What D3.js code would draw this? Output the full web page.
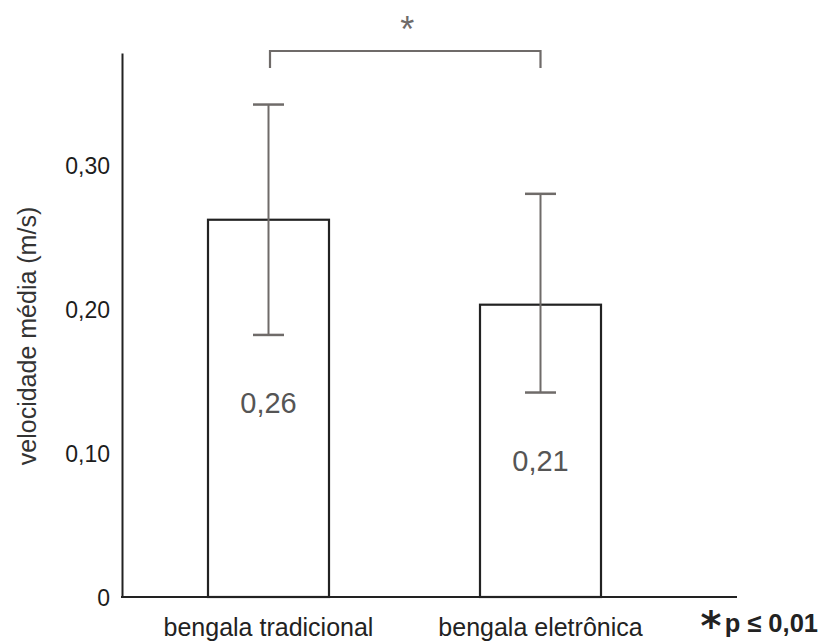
<!DOCTYPE html>
<html><head><meta charset="utf-8">
<script src="https://cdn.jsdelivr.net/npm/d3@7"></script>
<style>body{margin:0;background:#fff;} svg{display:block;font-family:"Liberation Sans",Arial,sans-serif;}</style>
</head><body>
<svg id="c" width="819" height="641"></svg>
<script>
const categories = ["bengala tradicional", "bengala eletrônica"];
const means = [0.262, 0.203];
const meanLabels = ["0,26", "0,21"];
const errHigh = [0.342, 0.280];
const errLow = [0.182, 0.142];
const yTicks = [0, 0.10, 0.20, 0.30];
const yTickLabels = ["0", "0,10", "0,20", "0,30"];
const yTitle = "velocidade média (m/s)";
const sigMark = "*";
const noteMark = "⁎";
const note = "p ≤ 0,01";

const svg = d3.select("#c");
const y = d3.scaleLinear().domain([0, 0.3778]).range([597, 53]);
const x = d3.scalePoint().domain(categories).range([268.5, 540.5]);
const barW = 121, capW = 31;
const gray = "#6f6b69", dark = "#222";

// Y axis
const yAxis = d3.axisLeft(y).tickValues(yTicks).tickSize(0).tickSizeOuter(0).tickPadding(12)
  .tickFormat((d, i) => yTickLabels[i]);
const gy = svg.append("g").attr("transform", "translate(122,0)").call(yAxis);
gy.select(".domain").attr("stroke", dark).attr("stroke-width", 2);
gy.selectAll(".tick text").attr("font-size", 23).attr("fill", "#1c1c1c").attr("font-family", "Liberation Sans, Arial, sans-serif").attr("dy", "0.36em");

// Bars
svg.selectAll("rect.bar").data(categories).join("rect").attr("class", "bar")
  .attr("x", d => x(d) - barW / 2).attr("width", barW)
  .attr("y", (d, i) => y(means[i])).attr("height", (d, i) => y(0) - y(means[i]))
  .attr("fill", "#fff").attr("stroke", dark).attr("stroke-width", 2.2);

// X axis line
svg.append("line").attr("x1", 121).attr("x2", 737).attr("y1", y(0)).attr("y2", y(0))
  .attr("stroke", dark).attr("stroke-width", 2);

// Error bars
const eb = svg.selectAll("g.eb").data(categories).join("g").attr("class", "eb");
eb.append("line").attr("x1", d => x(d)).attr("x2", d => x(d))
  .attr("y1", (d, i) => y(errHigh[i])).attr("y2", (d, i) => y(errLow[i]))
  .attr("stroke", gray).attr("stroke-width", 2);
eb.append("line").attr("x1", d => x(d) - capW / 2).attr("x2", d => x(d) + capW / 2)
  .attr("y1", (d, i) => y(errHigh[i])).attr("y2", (d, i) => y(errHigh[i]))
  .attr("stroke", gray).attr("stroke-width", 2.5);
eb.append("line").attr("x1", d => x(d) - capW / 2).attr("x2", d => x(d) + capW / 2)
  .attr("y1", (d, i) => y(errLow[i])).attr("y2", (d, i) => y(errLow[i]))
  .attr("stroke", gray).attr("stroke-width", 2.5);

// Value labels
svg.selectAll("text.val").data(categories).join("text").attr("class", "val")
  .attr("x", d => x(d)).attr("y", (d, i) => y(errLow[i]) + 78)
  .attr("text-anchor", "middle").attr("font-size", 29).attr("fill", "#555")
  .text((d, i) => meanLabels[i]);

// Category labels
svg.selectAll("text.cat").data(categories).join("text").attr("class", "cat")
  .attr("x", d => x(d)).attr("y", 636)
  .attr("text-anchor", "middle").attr("font-size", 25).attr("fill", dark)
  .text(d => d);

// Y title
svg.append("text").attr("transform", "translate(36,336) rotate(-90)")
  .attr("text-anchor", "middle").attr("font-size", 25).attr("fill", "#333").text(yTitle);

// Significance bracket
const bx1 = x(categories[0]) + 1.5, bx2 = x(categories[1]);
svg.append("path").attr("d", `M${bx1},68V51H${bx2}V68`)
  .attr("fill", "none").attr("stroke", gray).attr("stroke-width", 2.2);
svg.append("text").attr("x", (bx1 + bx2) / 2 + 2).attr("y", 42).attr("text-anchor", "middle")
  .attr("font-size", 36).attr("fill", gray).text(sigMark);

// Note
svg.append("text").attr("x", 711).attr("y", 629).attr("text-anchor", "middle")
  .attr("font-family", "DejaVu Sans").attr("font-weight", "bold").attr("font-size", 40)
  .attr("fill", dark).text(noteMark);
svg.append("text").attr("x", 818).attr("y", 632).attr("text-anchor", "end")
  .attr("font-weight", "bold").attr("font-size", 25.5).attr("fill", dark).text(note);
</script>
</body></html>
